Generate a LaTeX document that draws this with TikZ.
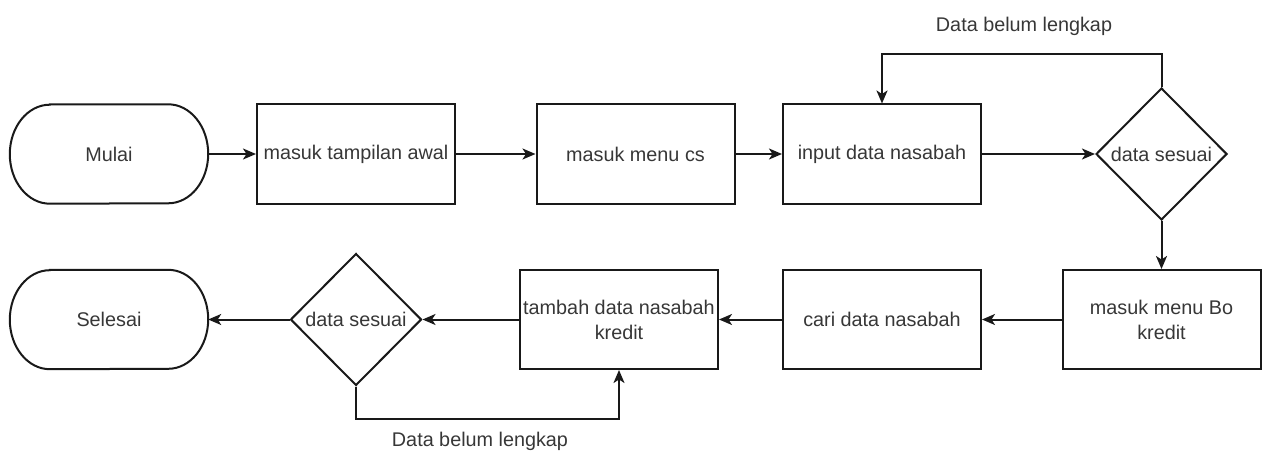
\documentclass[tikz,border=0pt]{standalone}
\usepackage{fontspec}
\setmainfont{Liberation Sans}
\usetikzlibrary{shapes.geometric,arrows.meta}

\definecolor{ink}{RGB}{25,25,25}
\definecolor{txt}{RGB}{55,55,55}

\tikzset{
  every node/.style={font=\fontsize{19.8}{25}\selectfont, text=txt},
  procbox/.style={draw=ink, line width=2pt, rectangle, minimum width=198pt,
    minimum height=99pt, inner sep=2pt, align=center},
  termbox/.style={rectangle, minimum width=198pt, minimum height=99pt, inner sep=0pt},
  decision/.style={draw=ink, line width=2pt, diamond, minimum width=131pt,
    minimum height=132pt, inner sep=0pt, align=center},
  outline/.style={draw=ink, line width=2pt},
  flow/.style={draw=ink, line width=2pt,
    -{Stealth[length=13pt, width=11pt, inset=3.5pt]}},
  lbl/.style={inner sep=1pt}
}

\begin{document}
\begin{tikzpicture}[x=1pt, y=-1pt]
  \useasboundingbox (0,0) rectangle (1262,452);

  % top row
  \node[termbox] (mulai) at (109,154) {Mulai};
  \node[procbox] (awal) at (356,154) {masuk tampilan awal};
  \node[procbox] (cs) at (635.5,154) {masuk menu cs};
  \node[procbox] (input) at (882,154) {input data nasabah};
  \node[decision] (cek1) at (1161.5,154) {data sesuai};

  % bottom row
  \node[procbox] (bo) at (1161.5,319.5) {masuk menu Bo\\kredit};
  \node[procbox] (cari) at (882,319.5) {cari data nasabah};
  \node[procbox] (tambah) at (619,319.5) {tambah data nasabah\\kredit};
  \node[decision] (cek2) at (356,319.5) {data sesuai};
  \node[termbox] (selesai) at (109,319.5) {Selesai};

  % terminator outlines with elliptical ends
  \foreach \t in {mulai, selesai}{
    \draw[outline] ([xshift=40pt]\t.north west) -- ([xshift=-40pt]\t.north east)
      arc[start angle=90, end angle=-90, x radius=40pt, y radius=49.5pt]
      -- ([xshift=40pt]\t.south west)
      arc[start angle=270, end angle=90, x radius=40pt, y radius=49.5pt] -- cycle;
  }

  % main flow
  \draw[flow] (mulai) -- (awal);
  \draw[flow] (awal) -- (cs);
  \draw[flow] (cs) -- (input);
  \draw[flow] (input) -- (cek1.west);
  \draw[flow] (cek1.south) -- (bo.north);
  \draw[flow] (bo) -- (cari);
  \draw[flow] (cari) -- (tambah);
  \draw[flow] (tambah) -- (cek2.east);
  \draw[flow] (cek2.west) -- (selesai);

  % loops back when the data is incomplete
  \coordinate (topline) at (0,54);
  \coordinate (botline) at (0,419);
  \draw[flow] (cek1.north) -- (cek1.north |- topline) -| (input.north);
  \draw[flow] (cek2.south) -- (cek2.south |- botline) -| (tambah.south);

  \node[lbl] (lbltop) at (1024,26) {Data belum lengkap};
  \node[lbl] (lblbot) at (480,441) {Data belum lengkap};
\end{tikzpicture}
\end{document}
